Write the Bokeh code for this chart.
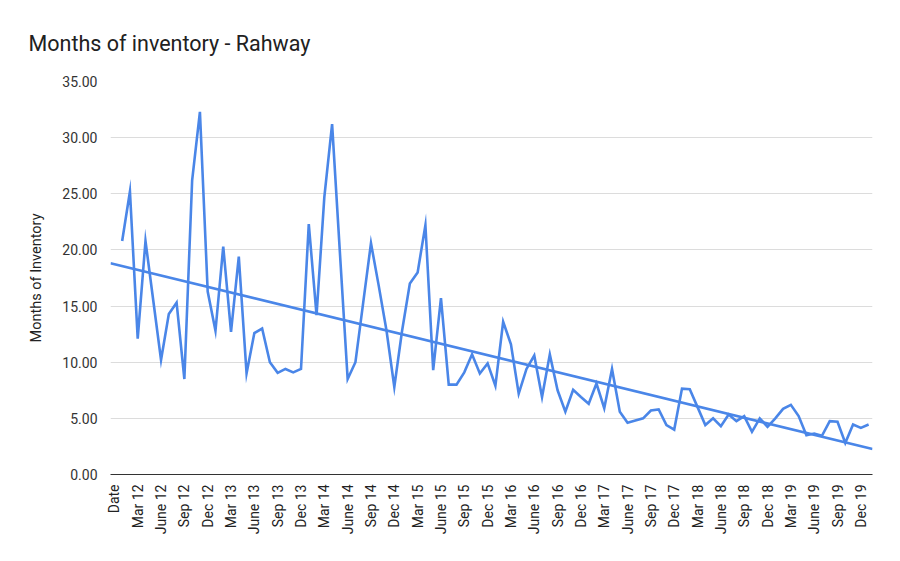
import numpy as np
from bokeh.plotting import figure
from bokeh.models import Range1d, FixedTicker, NumeralTickFormatter, ColumnDataSource
from bokeh.embed import file_html
from bokeh.resources import INLINE

# Category slots: 0 = "Date" (header row, no value), 1..97 = Jan 12 .. Jan 20
months_index = list(range(1, 98))
inventory = [
    20.8, 25.2, 12.1, 20.8, 15.5, 10.2, 14.3, 15.3, 8.5, 26.2, 32.3, 16.3,
    12.8, 20.3, 12.7, 19.4, 9.0, 12.6, 13.0, 10.0, 9.05, 9.4, 9.1, 9.4,
    22.3, 14.2, 24.7, 31.2, 19.8, 8.5, 10.0, 15.3, 20.6, 16.8, 12.8, 7.8,
    12.8, 17.0, 18.0, 22.2, 9.3, 15.7, 8.0, 8.0, 9.1, 10.7, 9.0, 9.9,
    7.9, 13.6, 11.6, 7.2, 9.4, 10.6, 6.9, 10.7, 7.5, 5.6, 7.55, 6.9,
    6.3, 8.1, 5.9, 9.4, 5.6, 4.6, 4.8, 5.0, 5.7, 5.8, 4.4, 4.0,
    7.65, 7.6, 6.0, 4.4, 5.0, 4.3, 5.35, 4.75, 5.2, 3.8, 5.0, 4.25,
    5.0, 5.85, 6.2, 5.2, 3.5, 3.65, 3.45, 4.75, 4.7, 2.8, 4.45, 4.15,
    4.45,
]

tick_positions = list(range(0, 97, 3))
tick_labels = [
    "Date", "Mar 12", "June 12", "Sep 12", "Dec 12", "Mar 13", "June 13",
    "Sep 13", "Dec 13", "Mar 14", "June 14", "Sep 14", "Dec 14", "Mar 15",
    "June 15", "Sep 15", "Dec 15", "Mar 16", "June 16", "Sep 16", "Dec 16",
    "Mar 17", "June 17", "Sep 17", "Dec 17", "Mar 18", "June 18", "Sep 18",
    "Dec 18", "Mar 19", "June 19", "Sep 19", "Dec 19",
]

n_slots = 98
blue = "#4a86e8"
font = "Roboto"

p = figure(
    width=900, height=561, output_backend="svg", toolbar_location=None,
    x_range=Range1d(-0.5, n_slots - 0.5), y_range=Range1d(0, 35),
    min_border_left=110, min_border_right=28, min_border_top=81,
    min_border_bottom=87, title="Months of inventory - Rahway",
)
p.outline_line_color = None

p.title.text_font = font
p.title.text_font_size = "21.5px"
p.title.text_font_style = "normal"
p.title.text_color = "#212121"
p.title.offset = -82
p.title.standoff = 52

src = ColumnDataSource(dict(x=months_index, y=inventory))
p.line("x", "y", source=src, line_color=blue, line_width=2.6, line_join="miter")

# linear trendline fitted to the series
slope, intercept = np.polyfit(np.array(months_index, dtype=float), np.array(inventory), 1)
tx = [-0.5, n_slots - 0.5]
ty = [intercept + slope * v for v in tx]
p.line(tx, ty, line_color=blue, line_width=2.6)

# y axis
p.yaxis.ticker = FixedTicker(ticks=[0, 5, 10, 15, 20, 25, 30, 35])
p.yaxis.formatter = NumeralTickFormatter(format="0.00")
p.yaxis.axis_line_color = None
p.yaxis.major_tick_line_color = None
p.yaxis.minor_tick_line_color = None
p.yaxis.major_label_standoff = 7
p.yaxis.major_label_text_font = font
p.yaxis.major_label_text_font_size = "14px"
p.yaxis.major_label_text_color = "#333333"
p.yaxis.axis_label = "Months of Inventory"
p.yaxis.axis_label_text_font = font
p.yaxis.axis_label_text_font_size = "14.5px"
p.yaxis.axis_label_text_font_style = "normal"
p.yaxis.axis_label_text_color = "#222222"
p.yaxis.axis_label_standoff = 14

p.ygrid.grid_line_color = "#dcdcdc"
p.ygrid.grid_line_width = 1
p.xgrid.grid_line_color = None

# x axis
p.xaxis.ticker = FixedTicker(ticks=tick_positions)
p.xaxis.major_label_overrides = {k: v for k, v in zip(tick_positions, tick_labels)}
p.xaxis.major_label_orientation = np.pi / 2
p.xaxis.axis_line_color = "#333333"
p.xaxis.major_tick_line_color = None
p.xaxis.minor_tick_line_color = None
p.xaxis.major_label_standoff = 4
p.xaxis.major_label_text_font = font
p.xaxis.major_label_text_font_size = "14px"
p.xaxis.major_label_text_color = "#222222"

open("out.html", "w").write(file_html(p, INLINE))
